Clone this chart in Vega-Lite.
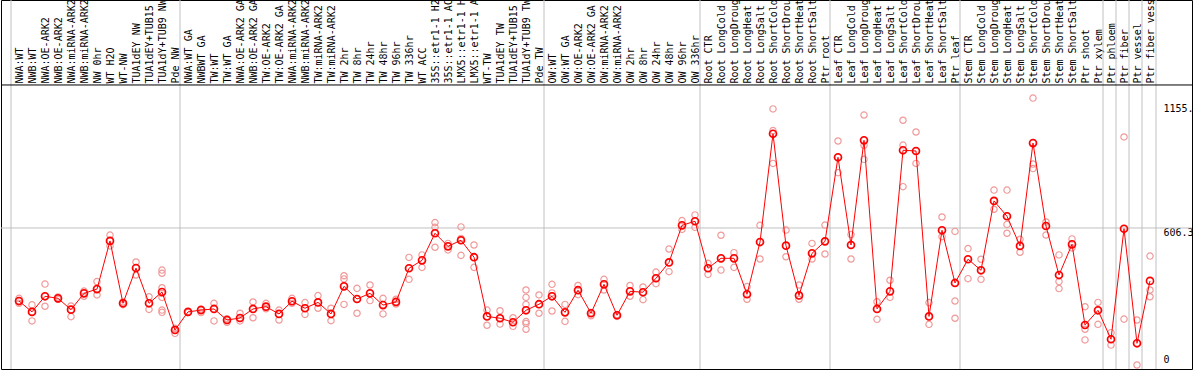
{
  "$schema": "https://vega.github.io/schema/vega-lite/v6.json",
  "autosize": {"type": "none"},
  "padding": {"left": 1, "top": 0, "right": 2, "bottom": 1},
  "background": "white",
  "width": 1191,
  "height": 369,
  "config": {"view": {"stroke": "#000000", "strokeWidth": 1}, "font": "DejaVu Sans Mono"},
  "datasets": {
    "bounds": [{"s": "NWA:WT"}, {"s": "NWA:WT GA"}, {"s": "OW:WT"}, {"s": "Root CTR"}, {"s": "Leaf CTR"}, {"s": "Stem CTR"}, {"s": "Ptr phloem"}, {"s": "Ptr fiber"}, {"s": "Ptr vessel"}, {"s": "Ptr fiber vessel"}],
    "boundsEnd": [{"s": "Ptr fiber vessel"}],
    "means": [
      {"s": "NWA:WT", "v": 283}, {"s": "NWB:WT", "v": 235}, {"s": "NWA:OE-ARK2", "v": 304}, {"s": "NWB:OE-ARK2", "v": 295},
      {"s": "NWA:miRNA-ARK2", "v": 245}, {"s": "NWB:miRNA-ARK2", "v": 317}, {"s": "NW 0hr", "v": 336}, {"s": "WT H2O", "v": 549},
      {"s": "WT-NW", "v": 273}, {"s": "TUA1dEY NW", "v": 429}, {"s": "TUA1dEY+TUB15 NW", "v": 273}, {"s": "TUA1dY+TUB9 NW", "v": 323},
      {"s": "Pde NW", "v": 155}, {"s": "NWA:WT GA", "v": 235}, {"s": "NWBWT GA", "v": 243}, {"s": "TW:WT", "v": 248},
      {"s": "TW:WT GA", "v": 199}, {"s": "NWA:OE-ARK2 GA", "v": 208}, {"s": "NWB:OE-ARK2 GA", "v": 248}, {"s": "TW:OE-ARK2", "v": 258},
      {"s": "TW:OE-ARK2 GA", "v": 226}, {"s": "NWA:miRNA-ARK2 GA", "v": 282}, {"s": "NWB:miRNA-ARK2 GA", "v": 251}, {"s": "TW:miRNA-ARK2", "v": 277},
      {"s": "TW:miRNA-ARK2 GA", "v": 226}, {"s": "TW 2hr", "v": 348}, {"s": "TW 8hr", "v": 292}, {"s": "TW 24hr", "v": 317},
      {"s": "TW 48hr", "v": 265}, {"s": "TW 96hr", "v": 279}, {"s": "TW 336hr", "v": 428}, {"s": "WT ACC", "v": 463},
      {"s": "35S::etr1-1 H2O", "v": 583}, {"s": "35S::etr1-1 ACC", "v": 525}, {"s": "LMX5::etr1-1 H2O", "v": 552}, {"s": "LMX5::etr1-1 ACC", "v": 477},
      {"s": "WT-TW", "v": 215}, {"s": "TUA1dEY TW", "v": 207}, {"s": "TUA1dEY+TUB15 TW", "v": 189}, {"s": "TUA1dY+TUB9 TW", "v": 242},
      {"s": "Pde TW", "v": 269}, {"s": "OW:WT", "v": 304}, {"s": "OW:WT GA", "v": 233}, {"s": "OW:OE-ARK2", "v": 331},
      {"s": "OW:OE-ARK2 GA", "v": 229}, {"s": "OW:miRNA-ARK2", "v": 357}, {"s": "OW:miRNA-ARK2 GA", "v": 220}, {"s": "OW 2hr", "v": 326},
      {"s": "OW 8hr", "v": 322}, {"s": "OW 24hr", "v": 384}, {"s": "OW 48hr", "v": 454}, {"s": "OW 96hr", "v": 618},
      {"s": "OW 336hr", "v": 636}, {"s": "Root CTR", "v": 428}, {"s": "Root LongCold", "v": 472}, {"s": "Root LongDrought", "v": 472},
      {"s": "Root LongHeat", "v": 313}, {"s": "Root LongSalt", "v": 544}, {"s": "Root ShortCold", "v": 1023}, {"s": "Root ShortDrought", "v": 528},
      {"s": "Root ShortHeat", "v": 308}, {"s": "Root ShortSalt", "v": 494}, {"s": "Ptr root", "v": 547}, {"s": "Leaf CTR", "v": 919},
      {"s": "Leaf LongCold", "v": 531}, {"s": "Leaf LongDrought", "v": 994}, {"s": "Leaf LongHeat", "v": 248}, {"s": "Leaf LongSalt", "v": 326},
      {"s": "Leaf ShortCold", "v": 950}, {"s": "Leaf ShortDrought", "v": 947}, {"s": "Leaf ShortHeat", "v": 215}, {"s": "Leaf ShortSalt", "v": 596},
      {"s": "Ptr leaf", "v": 363}, {"s": "Stem CTR", "v": 468}, {"s": "Stem LongCold", "v": 419}, {"s": "Stem LongDrought", "v": 726},
      {"s": "Stem LongHeat", "v": 658}, {"s": "Stem LongSalt", "v": 527}, {"s": "Stem ShortCold", "v": 982}, {"s": "Stem ShortDrought", "v": 615},
      {"s": "Stem ShortHeat", "v": 398}, {"s": "Stem ShortSalt", "v": 534}, {"s": "Ptr shoot", "v": 177}, {"s": "Ptr xylem", "v": 242},
      {"s": "Ptr phloem", "v": 114}, {"s": "Ptr fiber", "v": 603}, {"s": "Ptr vessel", "v": 96}, {"s": "Ptr fiber vessel", "v": 372}
    ],
    "reps": [
      {"s": "NWA:WT", "v": 295}, {"s": "NWA:WT", "v": 283}, {"s": "NWA:WT", "v": 273},
      {"s": "NWB:WT", "v": 266}, {"s": "NWB:WT", "v": 235}, {"s": "NWB:WT", "v": 195},
      {"s": "NWA:OE-ARK2", "v": 358}, {"s": "NWA:OE-ARK2", "v": 304}, {"s": "NWA:OE-ARK2", "v": 260},
      {"s": "NWB:OE-ARK2", "v": 301}, {"s": "NWB:OE-ARK2", "v": 295}, {"s": "NWB:OE-ARK2", "v": 291},
      {"s": "NWA:miRNA-ARK2", "v": 261}, {"s": "NWA:miRNA-ARK2", "v": 245}, {"s": "NWA:miRNA-ARK2", "v": 214},
      {"s": "NWB:miRNA-ARK2", "v": 327}, {"s": "NWB:miRNA-ARK2", "v": 317}, {"s": "NWB:miRNA-ARK2", "v": 304},
      {"s": "NW 0hr", "v": 369}, {"s": "NW 0hr", "v": 336}, {"s": "NW 0hr", "v": 310},
      {"s": "WT H2O", "v": 575}, {"s": "WT H2O", "v": 549}, {"s": "WT H2O", "v": 527},
      {"s": "WT-NW", "v": 279}, {"s": "WT-NW", "v": 273}, {"s": "WT-NW", "v": 267},
      {"s": "TUA1dEY NW", "v": 456}, {"s": "TUA1dEY NW", "v": 429}, {"s": "TUA1dEY NW", "v": 398},
      {"s": "TUA1dEY+TUB15 NW", "v": 302}, {"s": "TUA1dEY+TUB15 NW", "v": 273}, {"s": "TUA1dEY+TUB15 NW", "v": 246},
      {"s": "TUA1dY+TUB9 NW", "v": 420}, {"s": "TUA1dY+TUB9 NW", "v": 406}, {"s": "TUA1dY+TUB9 NW", "v": 342}, {"s": "TUA1dY+TUB9 NW", "v": 317}, {"s": "TUA1dY+TUB9 NW", "v": 299}, {"s": "TUA1dY+TUB9 NW", "v": 243}, {"s": "TUA1dY+TUB9 NW", "v": 233},
      {"s": "Pde NW", "v": 162}, {"s": "Pde NW", "v": 155}, {"s": "Pde NW", "v": 140},
      {"s": "NWA:WT GA", "v": 236}, {"s": "NWA:WT GA", "v": 235}, {"s": "NWA:WT GA", "v": 232},
      {"s": "NWBWT GA", "v": 248}, {"s": "NWBWT GA", "v": 243}, {"s": "NWBWT GA", "v": 232},
      {"s": "TW:WT", "v": 273}, {"s": "TW:WT", "v": 248}, {"s": "TW:WT", "v": 195},
      {"s": "TW:WT GA", "v": 205}, {"s": "TW:WT GA", "v": 199}, {"s": "TW:WT GA", "v": 189},
      {"s": "NWA:OE-ARK2 GA", "v": 229}, {"s": "NWA:OE-ARK2 GA", "v": 208}, {"s": "NWA:OE-ARK2 GA", "v": 195},
      {"s": "NWB:OE-ARK2 GA", "v": 279}, {"s": "NWB:OE-ARK2 GA", "v": 248}, {"s": "NWB:OE-ARK2 GA", "v": 209},
      {"s": "TW:OE-ARK2", "v": 273}, {"s": "TW:OE-ARK2", "v": 258}, {"s": "TW:OE-ARK2", "v": 249},
      {"s": "TW:OE-ARK2 GA", "v": 243}, {"s": "TW:OE-ARK2 GA", "v": 226}, {"s": "TW:OE-ARK2 GA", "v": 199},
      {"s": "NWA:miRNA-ARK2 GA", "v": 295}, {"s": "NWA:miRNA-ARK2 GA", "v": 282}, {"s": "NWA:miRNA-ARK2 GA", "v": 273},
      {"s": "NWB:miRNA-ARK2 GA", "v": 276}, {"s": "NWB:miRNA-ARK2 GA", "v": 251}, {"s": "NWB:miRNA-ARK2 GA", "v": 224},
      {"s": "TW:miRNA-ARK2", "v": 307}, {"s": "TW:miRNA-ARK2", "v": 277}, {"s": "TW:miRNA-ARK2", "v": 251},
      {"s": "TW:miRNA-ARK2 GA", "v": 251}, {"s": "TW:miRNA-ARK2 GA", "v": 226}, {"s": "TW:miRNA-ARK2 GA", "v": 196},
      {"s": "TW 2hr", "v": 395}, {"s": "TW 2hr", "v": 381}, {"s": "TW 2hr", "v": 348}, {"s": "TW 2hr", "v": 268},
      {"s": "TW 8hr", "v": 339}, {"s": "TW 8hr", "v": 292}, {"s": "TW 8hr", "v": 229},
      {"s": "TW 24hr", "v": 354}, {"s": "TW 24hr", "v": 317}, {"s": "TW 24hr", "v": 285},
      {"s": "TW 48hr", "v": 295}, {"s": "TW 48hr", "v": 266}, {"s": "TW 48hr", "v": 226},
      {"s": "TW 96hr", "v": 291}, {"s": "TW 96hr", "v": 279}, {"s": "TW 96hr", "v": 270},
      {"s": "TW 336hr", "v": 476}, {"s": "TW 336hr", "v": 428}, {"s": "TW 336hr", "v": 379},
      {"s": "WT ACC", "v": 487}, {"s": "WT ACC", "v": 463}, {"s": "WT ACC", "v": 432},
      {"s": "35S::etr1-1 H2O", "v": 630}, {"s": "35S::etr1-1 H2O", "v": 609}, {"s": "35S::etr1-1 H2O", "v": 583}, {"s": "35S::etr1-1 H2O", "v": 521},
      {"s": "35S::etr1-1 ACC", "v": 538}, {"s": "35S::etr1-1 ACC", "v": 525}, {"s": "35S::etr1-1 ACC", "v": 509},
      {"s": "LMX5::etr1-1 H2O", "v": 611}, {"s": "LMX5::etr1-1 H2O", "v": 560}, {"s": "LMX5::etr1-1 H2O", "v": 552}, {"s": "LMX5::etr1-1 H2O", "v": 485},
      {"s": "LMX5::etr1-1 ACC", "v": 531}, {"s": "LMX5::etr1-1 ACC", "v": 476}, {"s": "LMX5::etr1-1 ACC", "v": 432},
      {"s": "WT-TW", "v": 243}, {"s": "WT-TW", "v": 215}, {"s": "WT-TW", "v": 176},
      {"s": "TUA1dEY TW", "v": 240}, {"s": "TUA1dEY TW", "v": 207}, {"s": "TUA1dEY TW", "v": 181},
      {"s": "TUA1dEY+TUB15 TW", "v": 209}, {"s": "TUA1dEY+TUB15 TW", "v": 189}, {"s": "TUA1dEY+TUB15 TW", "v": 171},
      {"s": "TUA1dY+TUB9 TW", "v": 332}, {"s": "TUA1dY+TUB9 TW", "v": 299}, {"s": "TUA1dY+TUB9 TW", "v": 268}, {"s": "TUA1dY+TUB9 TW", "v": 242}, {"s": "TUA1dY+TUB9 TW", "v": 192}, {"s": "TUA1dY+TUB9 TW", "v": 184}, {"s": "TUA1dY+TUB9 TW", "v": 158},
      {"s": "Pde TW", "v": 310}, {"s": "Pde TW", "v": 268}, {"s": "Pde TW", "v": 229},
      {"s": "OW:WT", "v": 357}, {"s": "OW:WT", "v": 319}, {"s": "OW:WT", "v": 304}, {"s": "OW:WT", "v": 239},
      {"s": "OW:WT GA", "v": 268}, {"s": "OW:WT GA", "v": 233}, {"s": "OW:WT GA", "v": 193},
      {"s": "OW:OE-ARK2", "v": 352}, {"s": "OW:OE-ARK2", "v": 330}, {"s": "OW:OE-ARK2", "v": 311},
      {"s": "OW:OE-ARK2 GA", "v": 232}, {"s": "OW:OE-ARK2 GA", "v": 229}, {"s": "OW:OE-ARK2 GA", "v": 218},
      {"s": "OW:miRNA-ARK2", "v": 379}, {"s": "OW:miRNA-ARK2", "v": 357}, {"s": "OW:miRNA-ARK2", "v": 332},
      {"s": "OW:miRNA-ARK2 GA", "v": 223}, {"s": "OW:miRNA-ARK2 GA", "v": 220}, {"s": "OW:miRNA-ARK2 GA", "v": 215},
      {"s": "OW 2hr", "v": 352}, {"s": "OW 2hr", "v": 326}, {"s": "OW 2hr", "v": 304},
      {"s": "OW 8hr", "v": 345}, {"s": "OW 8hr", "v": 322}, {"s": "OW 8hr", "v": 289},
      {"s": "OW 24hr", "v": 411}, {"s": "OW 24hr", "v": 383}, {"s": "OW 24hr", "v": 360},
      {"s": "OW 48hr", "v": 513}, {"s": "OW 48hr", "v": 454}, {"s": "OW 48hr", "v": 413},
      {"s": "OW 96hr", "v": 639}, {"s": "OW 96hr", "v": 618}, {"s": "OW 96hr", "v": 600},
      {"s": "OW 336hr", "v": 664}, {"s": "OW 336hr", "v": 636}, {"s": "OW 336hr", "v": 609},
      {"s": "Root CTR", "v": 450}, {"s": "Root CTR", "v": 428}, {"s": "Root CTR", "v": 401},
      {"s": "Root LongCold", "v": 574}, {"s": "Root LongCold", "v": 472}, {"s": "Root LongCold", "v": 420},
      {"s": "Root LongDrought", "v": 497}, {"s": "Root LongDrought", "v": 472}, {"s": "Root LongDrought", "v": 432},
      {"s": "Root LongHeat", "v": 347}, {"s": "Root LongHeat", "v": 313}, {"s": "Root LongHeat", "v": 291},
      {"s": "Root LongSalt", "v": 618}, {"s": "Root LongSalt", "v": 544}, {"s": "Root LongSalt", "v": 469},
      {"s": "Root ShortCold", "v": 1133}, {"s": "Root ShortCold", "v": 1037}, {"s": "Root ShortCold", "v": 1024}, {"s": "Root ShortCold", "v": 892},
      {"s": "Root ShortDrought", "v": 597}, {"s": "Root ShortDrought", "v": 528}, {"s": "Root ShortDrought", "v": 479},
      {"s": "Root ShortHeat", "v": 354}, {"s": "Root ShortHeat", "v": 308}, {"s": "Root ShortHeat", "v": 291},
      {"s": "Root ShortSalt", "v": 538}, {"s": "Root ShortSalt", "v": 494}, {"s": "Root ShortSalt", "v": 469},
      {"s": "Ptr root", "v": 619}, {"s": "Ptr root", "v": 547}, {"s": "Ptr root", "v": 491},
      {"s": "Leaf CTR", "v": 991}, {"s": "Leaf CTR", "v": 919}, {"s": "Leaf CTR", "v": 851},
      {"s": "Leaf LongCold", "v": 577}, {"s": "Leaf LongCold", "v": 531}, {"s": "Leaf LongCold", "v": 469},
      {"s": "Leaf LongDrought", "v": 1106}, {"s": "Leaf LongDrought", "v": 994}, {"s": "Leaf LongDrought", "v": 972}, {"s": "Leaf LongDrought", "v": 910},
      {"s": "Leaf LongHeat", "v": 280}, {"s": "Leaf LongHeat", "v": 248}, {"s": "Leaf LongHeat", "v": 202},
      {"s": "Leaf LongSalt", "v": 375}, {"s": "Leaf LongSalt", "v": 326}, {"s": "Leaf LongSalt", "v": 299},
      {"s": "Leaf ShortCold", "v": 1083}, {"s": "Leaf ShortCold", "v": 973}, {"s": "Leaf ShortCold", "v": 950}, {"s": "Leaf ShortCold", "v": 789},
      {"s": "Leaf ShortDrought", "v": 1031}, {"s": "Leaf ShortDrought", "v": 947}, {"s": "Leaf ShortDrought", "v": 892},
      {"s": "Leaf ShortHeat", "v": 276}, {"s": "Leaf ShortHeat", "v": 215}, {"s": "Leaf ShortHeat", "v": 180},
      {"s": "Leaf ShortSalt", "v": 655}, {"s": "Leaf ShortSalt", "v": 596}, {"s": "Leaf ShortSalt", "v": 568},
      {"s": "Ptr leaf", "v": 591}, {"s": "Ptr leaf", "v": 363}, {"s": "Ptr leaf", "v": 283}, {"s": "Ptr leaf", "v": 207},
      {"s": "Stem CTR", "v": 515}, {"s": "Stem CTR", "v": 468}, {"s": "Stem CTR", "v": 382},
      {"s": "Stem LongCold", "v": 468}, {"s": "Stem LongCold", "v": 419}, {"s": "Stem LongCold", "v": 379},
      {"s": "Stem LongDrought", "v": 774}, {"s": "Stem LongDrought", "v": 726}, {"s": "Stem LongDrought", "v": 689},
      {"s": "Stem LongHeat", "v": 774}, {"s": "Stem LongHeat", "v": 658}, {"s": "Stem LongHeat", "v": 622}, {"s": "Stem LongHeat", "v": 583},
      {"s": "Stem LongSalt", "v": 556}, {"s": "Stem LongSalt", "v": 527}, {"s": "Stem LongSalt", "v": 499},
      {"s": "Stem ShortCold", "v": 1181}, {"s": "Stem ShortCold", "v": 982}, {"s": "Stem ShortCold", "v": 889}, {"s": "Stem ShortCold", "v": 869},
      {"s": "Stem ShortDrought", "v": 633}, {"s": "Stem ShortDrought", "v": 615}, {"s": "Stem ShortDrought", "v": 575},
      {"s": "Stem ShortHeat", "v": 487}, {"s": "Stem ShortHeat", "v": 398}, {"s": "Stem ShortHeat", "v": 369}, {"s": "Stem ShortHeat", "v": 338},
      {"s": "Stem ShortSalt", "v": 558}, {"s": "Stem ShortSalt", "v": 534}, {"s": "Stem ShortSalt", "v": 518},
      {"s": "Ptr shoot", "v": 258}, {"s": "Ptr shoot", "v": 177}, {"s": "Ptr shoot", "v": 158}, {"s": "Ptr shoot", "v": 111},
      {"s": "Ptr xylem", "v": 277}, {"s": "Ptr xylem", "v": 242}, {"s": "Ptr xylem", "v": 180},
      {"s": "Ptr phloem", "v": 143}, {"s": "Ptr phloem", "v": 114}, {"s": "Ptr phloem", "v": 88},
      {"s": "Ptr fiber", "v": 1009}, {"s": "Ptr fiber", "v": 603}, {"s": "Ptr fiber", "v": 203},
      {"s": "Ptr vessel", "v": 199}, {"s": "Ptr vessel", "v": 96}, {"s": "Ptr vessel", "v": 0},
      {"s": "Ptr fiber vessel", "v": 482}, {"s": "Ptr fiber vessel", "v": 332}, {"s": "Ptr fiber vessel", "v": 302}
    ],
    "grid": [{"v": 606.3}],
    "sep": [{"v": 1239}],
    "gene": [{"gene": "Potri.010G068400"}]
  },
  "encoding": {
    "x": {"field": "s", "type": "nominal",
      "scale": {"type": "point", "padding": 0, "range": [18, 1149], "domain": ["NWA:WT","NWB:WT","NWA:OE-ARK2","NWB:OE-ARK2","NWA:miRNA-ARK2","NWB:miRNA-ARK2","NW 0hr","WT H2O","WT-NW","TUA1dEY NW","TUA1dEY+TUB15 NW","TUA1dY+TUB9 NW","Pde NW","NWA:WT GA","NWBWT GA","TW:WT","TW:WT GA","NWA:OE-ARK2 GA","NWB:OE-ARK2 GA","TW:OE-ARK2","TW:OE-ARK2 GA","NWA:miRNA-ARK2 GA","NWB:miRNA-ARK2 GA","TW:miRNA-ARK2","TW:miRNA-ARK2 GA","TW 2hr","TW 8hr","TW 24hr","TW 48hr","TW 96hr","TW 336hr","WT ACC","35S::etr1-1 H2O","35S::etr1-1 ACC","LMX5::etr1-1 H2O","LMX5::etr1-1 ACC","WT-TW","TUA1dEY TW","TUA1dEY+TUB15 TW","TUA1dY+TUB9 TW","Pde TW","OW:WT","OW:WT GA","OW:OE-ARK2","OW:OE-ARK2 GA","OW:miRNA-ARK2","OW:miRNA-ARK2 GA","OW 2hr","OW 8hr","OW 24hr","OW 48hr","OW 96hr","OW 336hr","Root CTR","Root LongCold","Root LongDrought","Root LongHeat","Root LongSalt","Root ShortCold","Root ShortDrought","Root ShortHeat","Root ShortSalt","Ptr root","Leaf CTR","Leaf LongCold","Leaf LongDrought","Leaf LongHeat","Leaf LongSalt","Leaf ShortCold","Leaf ShortDrought","Leaf ShortHeat","Leaf ShortSalt","Ptr leaf","Stem CTR","Stem LongCold","Stem LongDrought","Stem LongHeat","Stem LongSalt","Stem ShortCold","Stem ShortDrought","Stem ShortHeat","Stem ShortSalt","Ptr shoot","Ptr xylem","Ptr phloem","Ptr fiber","Ptr vessel","Ptr fiber vessel"]},
      "axis": {"orient": "top", "offset": -85, "labelAngle": 270, "labelAlign": "left", "labelBaseline": "middle", "labelPadding": 2, "ticks": false, "domain": false, "grid": false, "labelFont": "DejaVu Sans Mono", "labelFontSize": 10, "labelColor": "#000000", "labelOverlap": false, "labelLimit": 300, "labelBound": false, "labelFlush": false, "title": null}},
    "y": {"field": "v", "type": "quantitative",
      "scale": {"domain": [-17.7, 1615], "nice": false, "zero": false},
      "axis": {"orient": "right", "values": [0, 606.3, 1155], "labelExpr": "datum.value == 1155 ? '1155.' : (datum.value == 0 ? '0' : '606.3')", "ticks": false, "domain": false, "grid": false, "labelPadding": -29, "labelAlign": "left", "labelBaseline": {"condition": {"test": "datum.value == 0", "value": "bottom"}, "value": "top"}, "labelFont": "DejaVu Sans Mono", "labelFontSize": 10, "labelColor": "#000000", "labelFlush": false, "labelOverlap": false, "labelBound": false, "title": null}}
  },
  "layer": [
    {
      "data": {"name": "bounds"},
      "mark": {"type": "rule", "color": "#c0c0c0", "strokeWidth": 1, "xOffset": -8},
      "encoding": {"y": null}
    },
    {
      "data": {"name": "boundsEnd"},
      "mark": {"type": "rule", "color": "#c0c0c0", "strokeWidth": 1, "xOffset": 6},
      "encoding": {"y": null}
    },
    {
      "data": {"name": "grid"},
      "mark": {"type": "rule", "color": "#c0c0c0", "strokeWidth": 1},
      "encoding": {"x": null}
    },
    {
      "data": {"name": "sep"},
      "mark": {"type": "rule", "color": "#000000", "strokeWidth": 1},
      "encoding": {"x": null}
    },
    {
      "data": {"name": "reps"},
      "mark": {"type": "point", "shape": "circle", "filled": false, "stroke": "#f09a9a", "strokeWidth": 1.2, "size": 40, "opacity": 1}
    },
    {
      "data": {"name": "means"},
      "mark": {"type": "line", "color": "#ff0000", "strokeWidth": 1},
      "encoding": {"order": {"value": null}}
    },
    {
      "data": {"name": "means"},
      "mark": {"type": "point", "shape": "circle", "filled": false, "stroke": "#ff0000", "strokeWidth": 1.6, "size": 50, "opacity": 1}
    },
    {
      "data": {"name": "gene"},
      "mark": {"type": "text", "align": "left", "baseline": "middle", "dx": -9, "dy": 12, "color": "#ff0000", "font": "DejaVu Sans Mono", "fontSize": 10},
      "encoding": {
        "x": {"datum": "NWA:WT", "type": "nominal"},
        "y": {"datum": 1239, "type": "quantitative"},
        "text": {"field": "gene", "type": "nominal"}
      }
    }
  ]
}
